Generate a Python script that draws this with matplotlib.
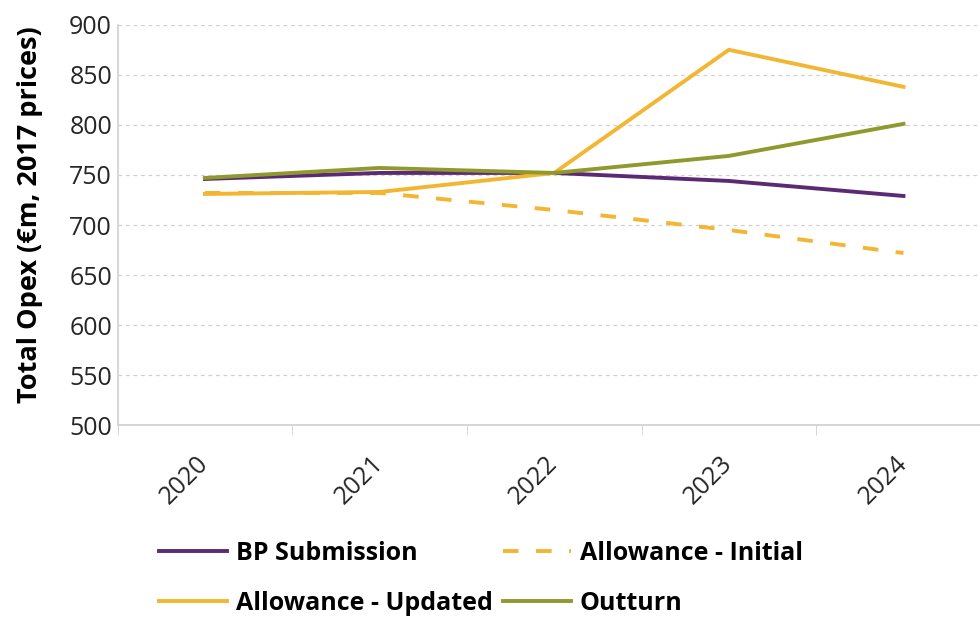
import matplotlib.pyplot as plt

years = ['2020', '2021', '2022', '2023', '2024']
bp_submission = [746, 752, 752, 744, 729]
allowance_initial = [732, 732, 715, 695, 672]
allowance_updated = [731, 733, 752, 875, 838]
outturn = [747, 757, 752, 769, 801]

purple = '#5c2a72'
yellow = '#f2b632'
green = '#8e9a2e'

plt.rcParams['font.family'] = ['Open Sans', 'DejaVu Sans']

fig = plt.figure(figsize=(9.8, 6.19), dpi=100)
ax = fig.add_axes([0.120, 0.313, 0.891, 0.647])

x = list(range(len(years)))
l_bp, = ax.plot(x, bp_submission, color=purple, lw=2.8, label='BP Submission', zorder=3)
l_ini, = ax.plot(x, allowance_initial, color=yellow, lw=2.8, ls=(0, (4, 4.5)),
                 label='Allowance - Initial', zorder=2)
l_upd, = ax.plot(x, allowance_updated, color=yellow, lw=2.8, label='Allowance - Updated', zorder=4)
l_out, = ax.plot(x, outturn, color=green, lw=2.8, label='Outturn', zorder=5)

ax.set_xlim(-0.5, 4.5)
ax.set_ylim(500, 900)
ax.set_yticks(range(500, 901, 50))
ax.yaxis.grid(True, ls=(0, (3, 3)), color='#d0d0d0', lw=0.9)
ax.set_axisbelow(True)

ax.set_xticks(x)
ax.set_xticklabels(years, rotation=45, fontsize=18, color='#262626',
                   ha='right', va='center', rotation_mode='anchor')
ax.set_xticks([i + 0.5 for i in range(-1, 5)], minor=True)
ax.tick_params(axis='x', which='major', length=0, pad=25)
ax.tick_params(axis='x', which='minor', length=7, color='#d0d0d0')
ax.tick_params(axis='y', length=0, labelsize=18, labelcolor='#262626', pad=4)

for s in ['top', 'right']:
    ax.spines[s].set_visible(False)
for s in ['left', 'bottom']:
    ax.spines[s].set_color('#d0d0d0')
    ax.spines[s].set_linewidth(1.2)

ax.set_ylabel('Total Opex (€m, 2017 prices)', fontsize=19.5, fontweight='bold')
ax.yaxis.set_label_coords(-0.085, 0.525)

# column-major fill, so this order gives rows: BP / Initial, Updated / Outturn
handles = [l_bp, l_upd, l_ini, l_out]
fig.legend(handles, [h.get_label() for h in handles], loc='upper left',
           bbox_to_anchor=(0.139, 0.162), ncol=2, frameon=False,
           handlelength=2.75, handletextpad=0.33, columnspacing=0.4,
           labelspacing=1.0, prop={'weight': 'bold', 'size': 18})

fig.savefig('out.png', dpi=100)
